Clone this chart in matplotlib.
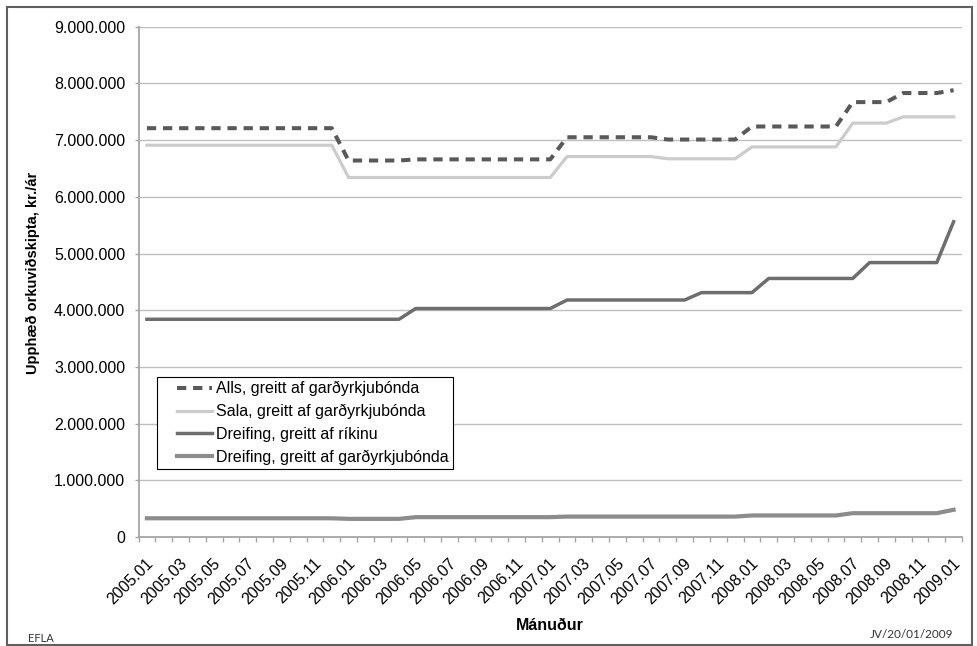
import matplotlib
matplotlib.use('Agg')
import matplotlib.pyplot as plt
import matplotlib.transforms as mtransforms
from matplotlib.patches import Rectangle
from matplotlib.lines import Line2D
from matplotlib.legend_handler import HandlerLine2D
from matplotlib.ticker import FuncFormatter

plt.rcParams['font.family'] = ['Liberation Sans', 'DejaVu Sans']

# Categories: months 2005.01 .. 2009.01
months = [f"{y}.{m:02d}" for y in range(2005, 2010) for m in range(1, 13)][:49]

# Series values (kr./ár)
alls = [7210000] * 12 + [6640000] * 4 + [6660000] * 9 + [7050000] * 6 + \
       [7010000] * 5 + [7240000] * 6 + [7670000] * 3 + [7830000] * 3 + [7880000]
sala = [6910000] * 12 + [6340000] * 13 + [6710000] * 6 + [6670000] * 5 + \
       [6880000] * 6 + [7300000] * 3 + [7410000] * 4
dreifing_rikid = [3840000] * 16 + [4030000] * 9 + [4180000] * 8 + [4310000] * 4 + \
                 [4560000] * 6 + [4840000] * 5 + [5560000]
dreifing_gard = [330000] * 12 + [320000] * 4 + [350000] * 9 + [360000] * 11 + \
                [380000] * 6 + [420000] * 6 + [480000]

labels = ["Alls, greitt af garðyrkjubónda",
          "Sala, greitt af garðyrkjubónda",
          "Dreifing, greitt af ríkinu",
          "Dreifing, greitt af garðyrkjubónda"]


class ShiftedHandler(HandlerLine2D):
    """Legend line handle with empty space on its left (as in the original)."""
    def get_xdata(self, legend, xdescent, ydescent, width, height, fontsize):
        shift = 11.5  # points
        xd = [-xdescent + shift, -xdescent + width]
        return xd, xd


W, H = 978, 646
fig = plt.figure(figsize=(W / 100, H / 100), dpi=100)
L, R, T, B = 138.5, 962, 26.7, 537
ax = fig.add_axes([L / W, 1 - B / H, (R - L) / W, (B - T) / H])

x = list(range(len(months)))
ax.plot(x, alls, color='#595959', lw=2.9, dashes=(2.3, 1.7), label=labels[0],
        solid_capstyle='butt', dash_capstyle='butt', zorder=5)
ax.plot(x, sala, color='#cccccc', lw=2.3, label=labels[1], zorder=4)
ax.plot(x, dreifing_rikid, color='#6e6e6e', lw=2.5, label=labels[2], zorder=4)
ax.plot(x, dreifing_gard, color='#8c8c8c', lw=3.0, label=labels[3], zorder=4)

ax.set_xlim(-0.5, len(months) - 0.5)
ax.set_ylim(0, 9000000)
ax.set_yticks(range(0, 9000001, 1000000))
ax.yaxis.set_major_formatter(FuncFormatter(lambda v, p: f"{int(v):,}".replace(',', '.')))
ax.grid(axis='y', color='#bfbfbf', lw=1.0)
ax.set_axisbelow(True)

for s in ('top', 'right'):
    ax.spines[s].set_visible(False)
for s in ('left', 'bottom'):
    ax.spines[s].set_color('#a6a6a6')
    ax.spines[s].set_linewidth(1.3)

# tick marks at category boundaries, labels at every second category
ax.set_xticks([i - 0.5 for i in range(len(months) + 1)])
ax.set_xticklabels([])
ax.set_xticks(x[::2], labels=months[::2], minor=True, rotation=45,
              ha='right', va='center', rotation_mode='anchor')
ax.tick_params(axis='x', which='major', length=3.6, color='#a6a6a6', width=1)
ax.tick_params(axis='x', which='minor', length=0, pad=17, labelsize=11.5)
ax.tick_params(axis='y', which='major', length=3, color='#a6a6a6', width=1,
               pad=6.5, labelsize=11.5)
off = mtransforms.ScaledTranslation(4 / 100, 0, fig.dpi_scale_trans)
for lbl in ax.get_xticklabels(minor=True):
    lbl.set_transform(lbl.get_transform() + off)

ax.set_xlabel("Mánuður", fontsize=11.5, fontweight='bold', va='center')
ax.xaxis.set_label_coords(0.5, (B - 625) / (B - T))
ax.set_ylabel("Upphæð orkuviðskipta, kr./ár", fontsize=10.5, fontweight='bold', va='center')
ax.yaxis.set_label_coords((33 - L) / (R - L), (B - 273) / (B - T))

leg = ax.legend(loc='upper left', bbox_to_anchor=(157 / W, 1 - 377 / H),
                bbox_transform=fig.transFigure, frameon=True, fancybox=False,
                edgecolor='black', framealpha=1, fontsize=11.5, handlelength=3.2,
                handletextpad=0.25, labelspacing=0.48, borderpad=0.25, borderaxespad=0,
                handler_map={Line2D: ShiftedHandler()})
leg.get_frame().set_linewidth(0.8)

fig.text(28 / W, 1 - 639 / H, "EFLA", fontsize=8, family=['Lato', 'DejaVu Sans'],
         ha='left', va='center', color='#333333')
fig.text(953 / W, 1 - 634 / H, "JV/20/01/2009", fontsize=8.5, family=['Lato', 'DejaVu Sans'],
         ha='right', va='center', color='#333333')

fig.add_artist(Rectangle((7 / W, 1 - 645 / H), (972 - 7) / W, (645 - 7) / H,
                         transform=fig.transFigure, fill=False,
                         edgecolor='#606060', lw=1.5))

fig.savefig('out.png', dpi=100)
